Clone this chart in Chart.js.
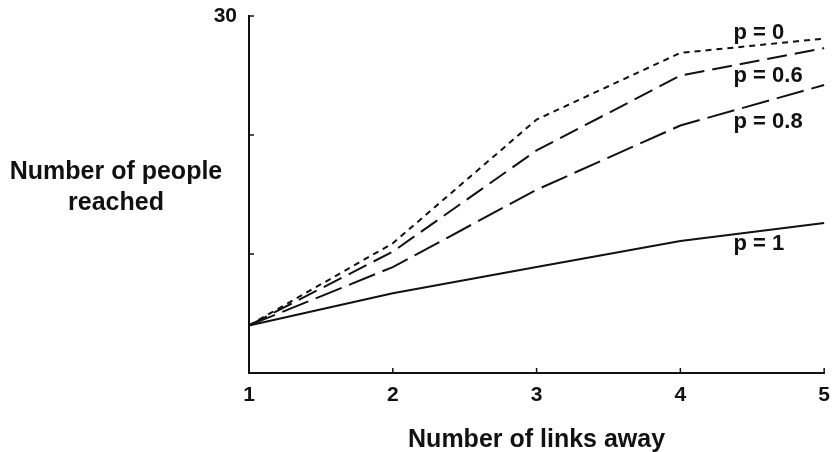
<!DOCTYPE html>
<html>
<head>
<meta charset="utf-8">
<script src="https://cdn.jsdelivr.net/npm/chart.js@4.4.1/dist/chart.umd.min.js"></script>
<style>
    html, body { margin: 0; padding: 0; background: #fff; }
    #wrap { width: 840px; height: 452px; position: relative; }
</style>
</head>
<body>
<div id="wrap"><canvas id="chartCanvas"></canvas></div>
<script>
// Chart data
const linksAway = ['1', '2', '3', '4', '5'];
const reachP0 = [4, 10.9, 21.3, 26.9, 28.1];
const reachP06 = [4, 10.2, 18.7, 25.0, 27.3];
const reachP08 = [4, 8.9, 15.4, 20.8, 24.2];
const reachP1 = [4, 6.7, 8.9, 11.1, 12.6];
const seriesLabels = ['p = 0', 'p = 0.6', 'p = 0.8', 'p = 1'];
const yTicks = [0, 10, 20, 30];
const yTickLabels = ['', '', '', '30'];

const xTitle = 'Number of links away';
const yTitle = ['Number of people', 'reached'];

const FONT = '"Liberation Sans", Arial, Helvetica, sans-serif';

// baseline anchor of each series label, in data units
const labelAnchors = [
    { x: 4.37, y: 28.1 },
    { x: 4.37, y: 24.45 },
    { x: 4.37, y: 20.6 },
    { x: 4.37, y: 10.3 }
];

// Extra drawing: inward tick marks, y tick label, axis titles, series labels
const decorations = {
    id: 'decorations',
    afterDraw(chart) {
        const ctx = chart.ctx;
        const xs = chart.scales.x;
        const ys = chart.scales.y;
        const area = chart.chartArea;
        ctx.save();
        ctx.strokeStyle = '#111';
        ctx.lineWidth = 1.5;
        // y ticks pointing into the plot
        yTicks.forEach(v => {
            const py = ys.getPixelForValue(v);
            ctx.beginPath();
            ctx.moveTo(area.left, py);
            ctx.lineTo(area.left + 5, py);
            ctx.stroke();
        });
        // x ticks pointing up
        linksAway.forEach((l, i) => {
            const px = xs.getPixelForValue(i);
            ctx.beginPath();
            ctx.moveTo(px, area.bottom);
            ctx.lineTo(px, area.bottom - 5);
            ctx.stroke();
        });

        ctx.fillStyle = '#111';

        // y tick labels
        ctx.font = 'bold 21px ' + FONT;
        ctx.textAlign = 'right';
        ctx.textBaseline = 'middle';
        yTicks.forEach((v, i) => {
            ctx.fillText(yTickLabels[i], area.left - 12, ys.getPixelForValue(v));
        });

        ctx.textBaseline = 'alphabetic';

        // series labels
        ctx.font = 'bold 22px ' + FONT;
        ctx.textAlign = 'left';
        labelAnchors.forEach((a, i) => {
            const px = xs.getPixelForValue(a.x - 1);
            const py = ys.getPixelForValue(a.y);
            ctx.fillText(seriesLabels[i], px, py);
        });

        // axis titles
        ctx.font = 'bold 25px ' + FONT;
        ctx.textAlign = 'center';
        ctx.fillText(yTitle[0], 116, 179);
        ctx.fillText(yTitle[1], 116, 210);
        ctx.fillText(xTitle, (area.left + area.right) / 2, 447);
        ctx.restore();
    }
};

window.onload = function() {
    const ctx = document.getElementById('chartCanvas').getContext('2d');

    const lineStyle = (label, data, dash) => ({
        label: label,
        data: data,
        borderColor: '#111',
        borderWidth: 2,
        borderDash: dash,
        pointRadius: 0,
        fill: false,
        tension: 0
    });

    new Chart(ctx, {
        type: 'line',
        data: {
            labels: linksAway,
            datasets: [
                lineStyle(seriesLabels[0], reachP0, [6, 5]),
                lineStyle(seriesLabels[1], reachP06, [20, 8]),
                lineStyle(seriesLabels[2], reachP08, [28, 8]),
                lineStyle(seriesLabels[3], reachP1, [])
            ]
        },
        options: {
            responsive: true,
            maintainAspectRatio: false,
            animation: false,
            layout: {
                padding: { left: 209, right: 12, top: 16, bottom: 0 }
            },
            scales: {
                x: {
                    type: 'category',
                    offset: false,
                    grid: { display: false, drawTicks: false },
                    border: { display: true, color: '#111', width: 2 },
                    ticks: {
                        color: '#111',
                        font: { family: FONT, size: 21, weight: 'bold' },
                        padding: 10,
                        maxRotation: 0
                    },
                    afterFit: s => { s.height = 79; }
                },
                y: {
                    min: 0,
                    max: 30,
                    grid: { display: false, drawTicks: false },
                    border: { display: true, color: '#111', width: 2 },
                    afterBuildTicks: s => { s.ticks = yTicks.map(v => ({ value: v })); },
                    ticks: { display: false },
                    afterFit: s => { s.width = 40; }
                }
            },
            plugins: {
                legend: { display: false },
                tooltip: { enabled: false }
            }
        },
        plugins: [decorations]
    });
};
</script>
</body>
</html>
